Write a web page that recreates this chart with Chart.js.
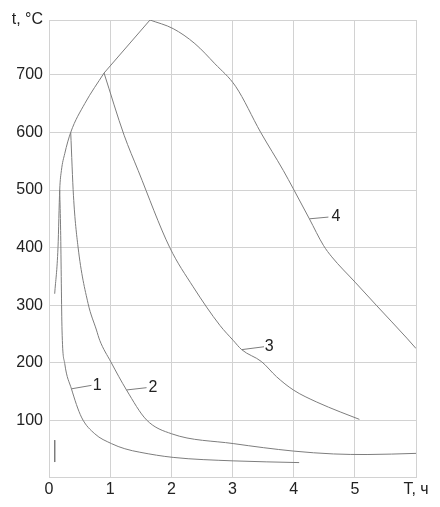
<!DOCTYPE html>
<html><head><meta charset="utf-8">
<script src="https://cdn.jsdelivr.net/npm/chart.js@4/dist/chart.umd.min.js"></script>
<style>html,body{margin:0;padding:0;background:#fff}</style>
</head><body>
<canvas id="c" width="440" height="507"></canvas>
<script>
// axis ticks
const xTickValues = [0, 1, 2, 3, 4, 5, 6];
const xTickLabels = ['0', '1', '2', '3', '4', '5', 'T, ч'];
const yTickValues = [100, 200, 300, 400, 500, 600, 700, 795];
const yTickLabels = ['100', '200', '300', '400', '500', '600', '700', 't, °C'];

// curve 4: heating envelope, linear ramp, cooling
const curve4Heat = [
  {x:0.093,y:320},{x:0.147,y:400},{x:0.175,y:500},{x:0.203,y:534},
  {x:0.257,y:563},{x:0.355,y:600},{x:0.585,y:650},{x:0.900,y:703}
];
const curve4Ramp = [{x:0.900,y:703},{x:1.651,y:795}];
const curve4Cool = [
  {x:1.651,y:795},{x:2.03,y:780},{x:2.385,y:754},{x:2.713,y:719},
  {x:3.05,y:680},{x:3.461,y:600},{x:3.83,y:534},{x:3.995,y:502},
  {x:4.257,y:450},{x:4.486,y:404},{x:4.623,y:384},{x:5.005,y:340},
  {x:5.36,y:299},{x:5.85,y:243},{x:6.0,y:225}
];
// curve 1: cooling from 500
const curve1 = [
  {x:0.175,y:500},{x:0.19,y:430},{x:0.213,y:257},{x:0.257,y:199},
  {x:0.367,y:155},{x:0.530,y:106},{x:0.748,y:77},{x:1.02,y:60},
  {x:1.24,y:51},{x:1.485,y:45},{x:2.03,y:36},{x:3.01,y:30},{x:4.09,y:27}
];
// curve 2: cooling from 600
const curve2 = [
  {x:0.355,y:600},{x:0.40,y:490},{x:0.475,y:401},{x:0.639,y:303},
  {x:0.776,y:257},{x:0.83,y:239},{x:1.01,y:202},{x:1.267,y:153},
  {x:1.595,y:101},{x:2.004,y:77},{x:3.012,y:60},{x:3.995,y:47},
  {x:4.65,y:42},{x:5.2,y:41},{x:6.0,y:43}
];
// curve 3: cooling from 700
const curve3 = [
  {x:0.900,y:703},{x:1.228,y:595},{x:1.457,y:534},{x:1.975,y:400},
  {x:2.357,y:332},{x:2.795,y:265},{x:3.012,y:239},{x:3.15,y:223},
  {x:3.477,y:202},{x:3.72,y:176},{x:3.995,y:153},{x:4.378,y:132},
  {x:4.76,y:115},{x:5.075,y:102}
];
// short vertical mark near the origin
const markSegment = [{x:0.093,y:66},{x:0.093,y:28}];

// curve labels and leader lines
const curveNames = ['1', '2', '3', '4'];
const labelX = [0.79, 1.70, 3.60, 4.69];
const labelY = [161, 157, 229, 454];
const leader1 = [{x:0.367,y:155},{x:0.694,y:161}];
const leader2 = [{x:1.267,y:153},{x:1.595,y:157}];
const leader3 = [{x:3.15,y:223},{x:3.515,y:228}];
const leader4 = [{x:4.257,y:450},{x:4.568,y:453}];

const LINE = '#7d7d7d';
function ds(data, smooth) {
  return {data, borderColor: LINE, borderWidth: 1, pointRadius: 0, fill: false,
    tension: smooth ? 0.4 : 0, cubicInterpolationMode: smooth ? 'monotone' : 'default'};
}

const labelPlugin = {
  id: 'curveLabels',
  afterDatasetsDraw(chart) {
    const {ctx, scales: {x, y}} = chart;
    ctx.save();
    ctx.font = '16px "Liberation Sans", Arial, sans-serif';
    ctx.fillStyle = '#222';
    ctx.textAlign = 'center';
    ctx.textBaseline = 'middle';
    curveNames.forEach((n, i) => {
      ctx.fillText(n, x.getPixelForValue(labelX[i]), y.getPixelForValue(labelY[i]));
    });
    ctx.restore();
  }
};

new Chart(document.getElementById('c'), {
  type: 'line',
  data: {
    datasets: [
      ds(curve4Heat, true), ds(curve4Ramp, false), ds(curve4Cool, true),
      ds(curve1, true), ds(curve2, true), ds(curve3, true),
      ds(markSegment, false),
      ds(leader1, false), ds(leader2, false), ds(leader3, false), ds(leader4, false)
    ]
  },
  options: {
    responsive: false,
    animation: false,
    layout: {padding: {left: 0, top: 20, right: 24, bottom: 0}},
    plugins: {legend: {display: false}, tooltip: {enabled: false}},
    scales: {
      x: {
        type: 'linear', min: 0, max: 6,
        afterBuildTicks: s => { s.ticks = xTickValues.map(v => ({value: v})); },
        afterFit: s => { s.height = 30; },
        ticks: {
          callback: (v) => xTickLabels[xTickValues.indexOf(v)],
          font: {family: '"Liberation Sans", Arial, sans-serif', size: 16},
          color: '#222', padding: 3, maxRotation: 0, autoSkip: false
        },
        grid: {color: '#d2d2d2', lineWidth: 1, drawTicks: false},
        border: {color: '#d2d2d2'}
      },
      y: {
        type: 'linear', min: 2, max: 795,
        afterBuildTicks: s => { s.ticks = yTickValues.map(v => ({value: v})); },
        afterFit: s => { s.width = 49; },
        ticks: {
          callback: (v) => yTickLabels[yTickValues.indexOf(v)],
          font: {family: '"Liberation Sans", Arial, sans-serif', size: 16},
          color: '#222', padding: 6, autoSkip: false
        },
        grid: {color: '#d2d2d2', lineWidth: 1, drawTicks: false},
        border: {color: '#d2d2d2'}
      }
    }
  },
  plugins: [labelPlugin]
});
</script>
</body></html>
